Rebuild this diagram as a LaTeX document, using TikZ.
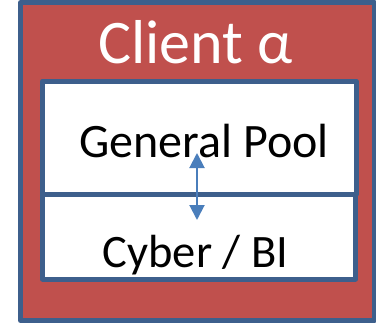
\documentclass[tikz,border=0pt]{standalone}
\usepackage{fontspec}
\setmainfont{Carlito}
\usetikzlibrary{arrows.meta}
\definecolor{clientred}{HTML}{C0504D}
\definecolor{frameblue}{HTML}{3D5F8C}
\definecolor{arrowblue}{HTML}{4A7EBB}
\tikzset{
  frame/.style={draw=frameblue, line width=5pt, line join=round},
  pool/.style={frame, fill=white},
  label/.style={anchor=base, inner sep=0pt},
  link/.style={draw=arrowblue, line width=2pt,
    {Triangle[length=15pt,width=15pt]}-{Triangle[length=15pt,width=15pt]}}
}
\begin{document}
\begin{tikzpicture}[x=1pt, y=-1pt]
  \useasboundingbox (0,0) rectangle (376,325);
  % client container
  \draw[frame, fill=clientred] (20.5,2.5) rectangle (374.5,320.5);
  \node[label, text=white, font=\fontsize{62}{62}\selectfont] (title) at (195.5,63) {Client α};
  % the two pools
  \draw[pool] (42.5,194) rectangle (355.5,279);
  \draw[pool] (42.5,81) rectangle (356,194);
  \node[label, font=\fontsize{48}{48}\selectfont] (general) at (204,157) {General Pool};
  \node[label, font=\fontsize{46.5}{46.5}\selectfont] (cyber) at (195.5,267) {Cyber / BI};
  % transfer between pools
  \coordinate (gtop) at (197,153);
  \coordinate (cbot) at (197,220);
  \draw[link] (gtop) -- (cbot);
\end{tikzpicture}
\end{document}
